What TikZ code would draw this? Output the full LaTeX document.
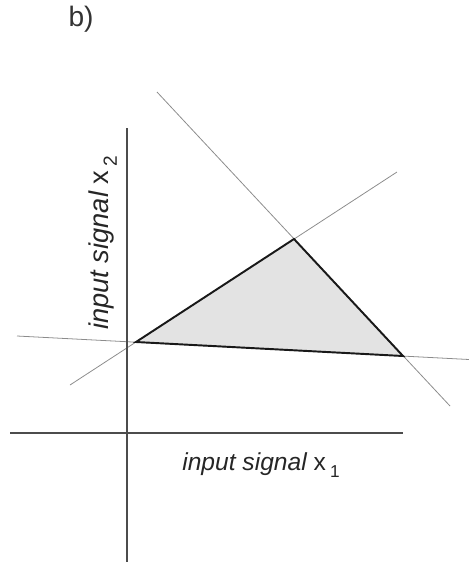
\documentclass[tikz,border=0pt]{standalone}
\usepackage{fontspec}
\setmainfont{Liberation Sans}
\begin{document}
\begin{tikzpicture}[x=0.02cm,y=-0.02cm,
  thinline/.style={draw=black!45,line width=0.45pt},
  axisline/.style={draw=black!70,line width=0.6pt},
  edge/.style={draw=black!90,line width=1.1pt,line cap=round},
  lbl/.style={font=\fontsize{14}{16}\selectfont\itshape,text=black!85,inner sep=0pt}]
\useasboundingbox (0,0) rectangle (469,562);
% triangle vertices
\coordinate (A) at (136,342);
\coordinate (B) at (294,239);
\coordinate (C) at (403,356);
% line ends
\coordinate (h1) at (17,336);
\coordinate (h2) at (469,359.5);
\coordinate (r1) at (70,385);
\coordinate (r2) at (397,172);
\coordinate (f1) at (157,92);
\coordinate (f2) at (450,406);
% axes
\coordinate (vtop) at (127,128);
\coordinate (vbot) at (127,562);
\coordinate (hl) at (10,433);
\coordinate (hr) at (403,433);
% shaded region
\fill[black!11] (A) -- (B) -- (C) -- cycle;
% boundary lines
\draw[thinline] (h1) -- (h2);
\draw[thinline] (r1) -- (r2);
\draw[thinline] (f1) -- (f2);
% axes
\draw[axisline] (vtop) -- (vbot);
\draw[axisline] (hl) -- (hr);
% triangle edges
\draw[edge] (A) -- (B) -- (C) -- cycle;
% labels
\node[font=\fontsize{16}{18}\selectfont,text=black!80,inner sep=0pt] (b) at (81,19) {b)};
\node[lbl,anchor=base west] (x1) at (182,470) {input signal \upshape x\,\raisebox{-0.3ex}{\textsubscript{1}}};
\node[lbl,font=\fontsize{15.5}{17}\selectfont\itshape,rotate=90,anchor=base west] (x2) at (108,330) {input signal \upshape x\,\raisebox{-0.3ex}{\textsubscript{2}}};
\end{tikzpicture}
\end{document}
